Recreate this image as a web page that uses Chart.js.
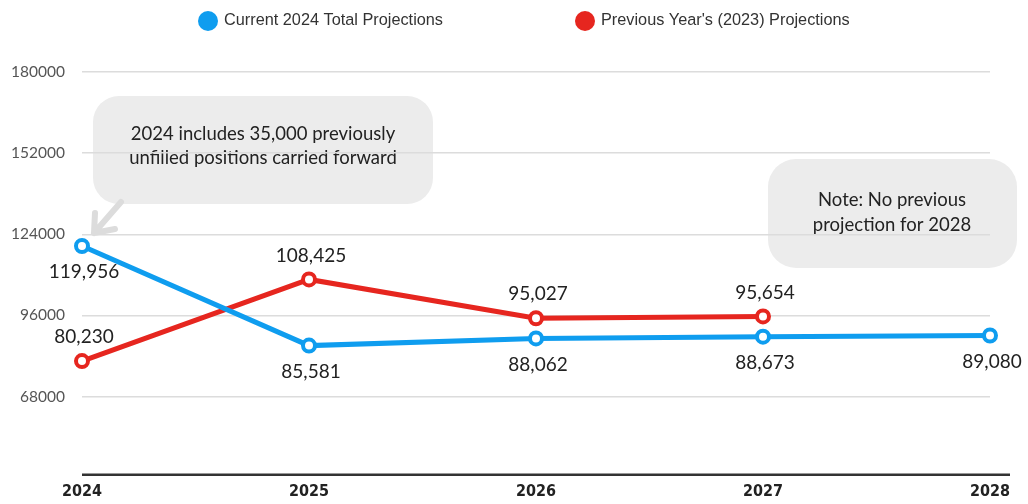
<!DOCTYPE html>
<html>
<head>
<meta charset="utf-8">
<script src="https://cdn.jsdelivr.net/npm/chart.js@4.4.1/dist/chart.umd.min.js"></script>
<style>
  html, body { margin: 0; padding: 0; background: #fff; }
  #wrap { width: 1028px; height: 504px; position: relative; }
</style>
</head>
<body>
<div id="wrap"><canvas id="projChart" width="1028" height="504"></canvas></div>
<script>
// --- DATA ---
const years = ['2024', '2025', '2026', '2027', '2028'];
const currentTotals = [119956, 85581, 88062, 88673, 89080];
const previousTotals = [80230, 108425, 95027, 95654, null];
const yTicks = [40000, 68000, 96000, 124000, 152000, 180000];

const seriesNames = ['Current 2024 Total Projections', "Previous Year's (2023) Projections"];
const notes = [
    ['2024 includes 35,000 previously', 'unfilled positions carried forward'],
    ['Note: No previous', 'projection for 2028']
];

const BLUE = '#0f9def';
const RED = '#e6261f';
const LABEL_FONT = '"Lato", "Open Sans", sans-serif';

// --- HELPERS ---
function roundRect(ctx, x, y, w, h, r) {
    ctx.beginPath();
    ctx.moveTo(x + r, y);
    ctx.arcTo(x + w, y, x + w, y + h, r);
    ctx.arcTo(x + w, y + h, x, y + h, r);
    ctx.arcTo(x, y + h, x, y, r);
    ctx.arcTo(x, y, x + w, y, r);
    ctx.closePath();
}

// grey speech bubbles, painted under the grid
const bubblePlugin = {
    id: 'bubbles',
    beforeDraw(chart) {
        const ctx = chart.ctx;
        const x = chart.scales.x;
        const y = chart.scales.y;
        ctx.save();
        ctx.fillStyle = '#ececec';

        // bubble pointing at the 2024 current value
        const p0x = x.getPixelForValue(0);
        const p0y = y.getPixelForValue(currentTotals[0]);
        roundRect(ctx, 93, 96, 340, 108, 26);
        ctx.fill();

        // arrow
        const tipX = p0x + 12, tipY = p0y - 13;
        ctx.strokeStyle = '#dcdcdc';
        ctx.lineWidth = 6;
        ctx.lineCap = 'round';
        ctx.beginPath();
        ctx.moveTo(121, 202);
        ctx.lineTo(tipX, tipY);
        ctx.moveTo(tipX, tipY);
        ctx.lineTo(tipX + 1, tipY - 20);
        ctx.moveTo(tipX, tipY);
        ctx.lineTo(tipX + 21, tipY - 4);
        ctx.stroke();

        roundRect(ctx, 768, 159, 249, 109, 28);
        ctx.fill();

        ctx.fillStyle = '#222';
        ctx.font = '18.5px ' + LABEL_FONT;
        ctx.textAlign = 'center';
        ctx.textBaseline = 'middle';
        ctx.fillText(notes[0][0], 263, 134);
        ctx.fillText(notes[0][1], 263, 158);
        ctx.fillText(notes[1][0], 892, 200);
        ctx.fillText(notes[1][1], 892, 225);
        ctx.restore();
    }
};

// value labels: current series below the point, previous series above
const valueLabelPlugin = {
    id: 'valueLabels',
    afterDatasetsDraw(chart) {
        const ctx = chart.ctx;
        ctx.save();
        ctx.font = '19px ' + LABEL_FONT;
        ctx.fillStyle = '#222';
        ctx.textAlign = 'center';
        ctx.textBaseline = 'middle';
        chart.data.datasets.forEach((ds, di) => {
            const meta = chart.getDatasetMeta(di);
            meta.data.forEach((pt, i) => {
                const v = ds.data[i];
                if (v === null || v === undefined) return;
                const dy = di === 0 ? 26 : -24;
                ctx.fillText(v.toLocaleString('en-US'), pt.x + 2, pt.y + dy);
            });
        });
        ctx.restore();
    }
};

// legend row and bottom axis rule
const chromePlugin = {
    id: 'chrome',
    afterDraw(chart) {
        const ctx = chart.ctx;
        const area = chart.chartArea;
        ctx.save();
        ctx.strokeStyle = '#333';
        ctx.lineWidth = 2.5;
        ctx.beginPath();
        ctx.moveTo(area.left, area.bottom - 3);
        ctx.lineTo(area.right + 20, area.bottom - 3);
        ctx.stroke();

        const items = [
            { x: 208, color: BLUE, text: seriesNames[0] },
            { x: 585, color: RED, text: seriesNames[1] }
        ];
        ctx.font = '16.3px "Liberation Sans", Arial, sans-serif';
        ctx.textBaseline = 'middle';
        ctx.textAlign = 'left';
        items.forEach(it => {
            ctx.fillStyle = it.color;
            ctx.beginPath();
            ctx.arc(it.x, 21, 10, 0, Math.PI * 2);
            ctx.fill();
            ctx.fillStyle = '#333';
            ctx.fillText(it.text, it.x + 16, 21);
        });
        ctx.restore();
    }
};

// --- CHART ---
const ctx = document.getElementById('projChart').getContext('2d');
new Chart(ctx, {
    type: 'line',
    data: {
        labels: years,
        datasets: [
            {
                label: seriesNames[0],
                data: currentTotals,
                borderColor: BLUE,
                borderWidth: 5,
                pointRadius: 6,
                pointBorderWidth: 4,
                pointBackgroundColor: '#fff',
                pointBorderColor: BLUE,
                tension: 0
            },
            {
                label: seriesNames[1],
                data: previousTotals,
                borderColor: RED,
                borderWidth: 5,
                pointRadius: 6,
                pointBorderWidth: 4,
                pointBackgroundColor: '#fff',
                pointBorderColor: RED,
                spanGaps: false,
                tension: 0
            }
        ]
    },
    options: {
        responsive: false,
        animation: false,
        devicePixelRatio: 1,
        layout: { padding: { top: 72, right: 38, bottom: 0, left: 0 } },
        plugins: {
            legend: { display: false },
            tooltip: { enabled: false }
        },
        scales: {
            x: {
                offset: false,
                grid: { display: false, drawTicks: false },
                border: { display: false },
                ticks: {
                    padding: 5,
                    color: '#222',
                    font: { family: '"DejaVu Sans Condensed", "Liberation Sans", Arial', size: 16, weight: 'bold' }
                },
                afterFit(scale) { scale.height = 26; }
            },
            y: {
                min: 40000,
                max: 180000,
                afterBuildTicks(scale) { scale.ticks = yTicks.map(v => ({ value: v })); },
                grid: {
                    drawTicks: false,
                    lineWidth: 1.5,
                    color: c => (c.tick && c.tick.value === 40000 ? 'rgba(0,0,0,0)' : '#dcdcdc')
                },
                border: { display: false },
                ticks: {
                    padding: 17,
                    color: '#555',
                    font: { family: LABEL_FONT, size: 15.5 },
                    callback: v => (v === 40000 ? '' : String(v))
                },
                afterFit(scale) { scale.width = 82; }
            }
        }
    },
    plugins: [bubblePlugin, valueLabelPlugin, chromePlugin]
});
</script>
</body>
</html>
